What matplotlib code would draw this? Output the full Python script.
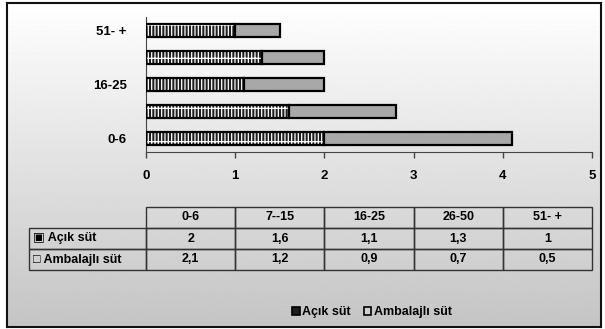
import matplotlib.pyplot as plt
import numpy as np
from matplotlib.table import Table
from matplotlib.patches import Rectangle

plt.rcParams['font.family'] = ['Liberation Sans', 'DejaVu Sans']
plt.rcParams['hatch.linewidth'] = 0.9

# yaş grupları ve süt tüketimi
gruplar = ["0-6", "7--15", "16-25", "26-50", "51- +"]
acik_sut = [2, 1.6, 1.1, 1.3, 1]
ambalajli_sut = [2.1, 1.2, 0.9, 0.7, 0.5]
seriler = ["Açık süt", "Ambalajlı süt"]
isaretler = ["▣ ", "□ "]

fig = plt.figure(figsize=(6.05, 3.29), dpi=100)

# gri degrade zemin ve cerceve
bg = fig.add_axes([7/605, 2/329, 594/605, 324/329], zorder=-10)
grad = np.linspace(1.0, 0.77, 256).reshape(-1, 1)
bg.imshow(grad, aspect='auto', cmap='gray', vmin=0, vmax=1, extent=[0, 1, 0, 1])
bg.set_xticks([])
bg.set_yticks([])
for s in bg.spines.values():
	s.set_linewidth(1.5)
	s.set_color('#111111')

ax = fig.add_axes([146/605, 1-152/329, 446/605, 135/329])
ax.patch.set_alpha(0)

y = np.arange(len(gruplar))
h = 0.48
ax.barh(y, acik_sut, height=h, color='#1e1e1e', edgecolor='none', zorder=2)
ax.barh(y, acik_sut, height=h, color='none', edgecolor='white', linewidth=0, hatch='|||||-', zorder=3)
ax.barh(y, acik_sut, height=h, color='none', edgecolor='black', linewidth=1.6, zorder=4)
ax.barh(y, ambalajli_sut, left=acik_sut, height=h, color='#a8a8a8', edgecolor='black', linewidth=1.6, zorder=4)

ax.set_xlim(0, 5)
ax.set_ylim(-0.5, 4.5)
ax.set_xticks(range(6))
ax.set_xticklabels([str(i) for i in range(6)], fontsize=9.5, fontweight='bold')
ax.set_yticks(y[::2])
ax.set_yticklabels(gruplar[::2], fontsize=9.5, fontweight='bold')
ax.tick_params(axis='y', length=0, pad=14)
ax.tick_params(axis='x', length=4, width=1, color='#444444', pad=9)
ax.spines['top'].set_visible(False)
ax.spines['right'].set_visible(False)
ax.spines['left'].set_color('#444444')
ax.spines['bottom'].set_color('#444444')

# veri tablosu
x0, x1, top, bot = 29, 592, 207, 270
tbl = Table(ax, bbox=[(x0-146)/446, (152-bot)/135, (x1-x0)/446, (bot-top)/135])
lab_w = 146 - x0
col_w = (x1 - 146) / len(gruplar)
row_h = (bot - top) / 3
for j, g in enumerate(gruplar):
	tbl.add_cell(0, j+1, col_w, row_h, text=g, loc='center', facecolor='none', edgecolor='#333333')
for i, (ad, vals) in enumerate(zip(seriler, [acik_sut, ambalajli_sut])):
	c = tbl.add_cell(i+1, 0, lab_w, row_h, text=isaretler[i] + ad, loc='left', facecolor='none', edgecolor='#333333')
	c.PAD = 0.03
	for j, v in enumerate(vals):
		tbl.add_cell(i+1, j+1, col_w, row_h, text=str(v).replace('.', ','), loc='center', facecolor='none', edgecolor='#333333')
tbl.auto_set_font_size(False)
tbl.set_fontsize(9)
for c in tbl.get_celld().values():
	c.get_text().set_fontweight('bold')
	c.set_linewidth(1)
ax.add_table(tbl)

# gosterge
kutular = [Rectangle((0, 0), 1, 1, facecolor='#1e1e1e', edgecolor='black', linewidth=1.2),
	Rectangle((0, 0), 1, 1, facecolor='#d0d0d0', edgecolor='black', linewidth=1.2)]
fig.legend(kutular, seriler, loc='center', bbox_to_anchor=(372/605, 1-312/329),
	ncol=2, frameon=False, prop={'weight': 'bold', 'size': 9},
	handlelength=0.6, handleheight=0.6, handletextpad=0.2, columnspacing=1.0)

fig.savefig('out.png', dpi=100)
